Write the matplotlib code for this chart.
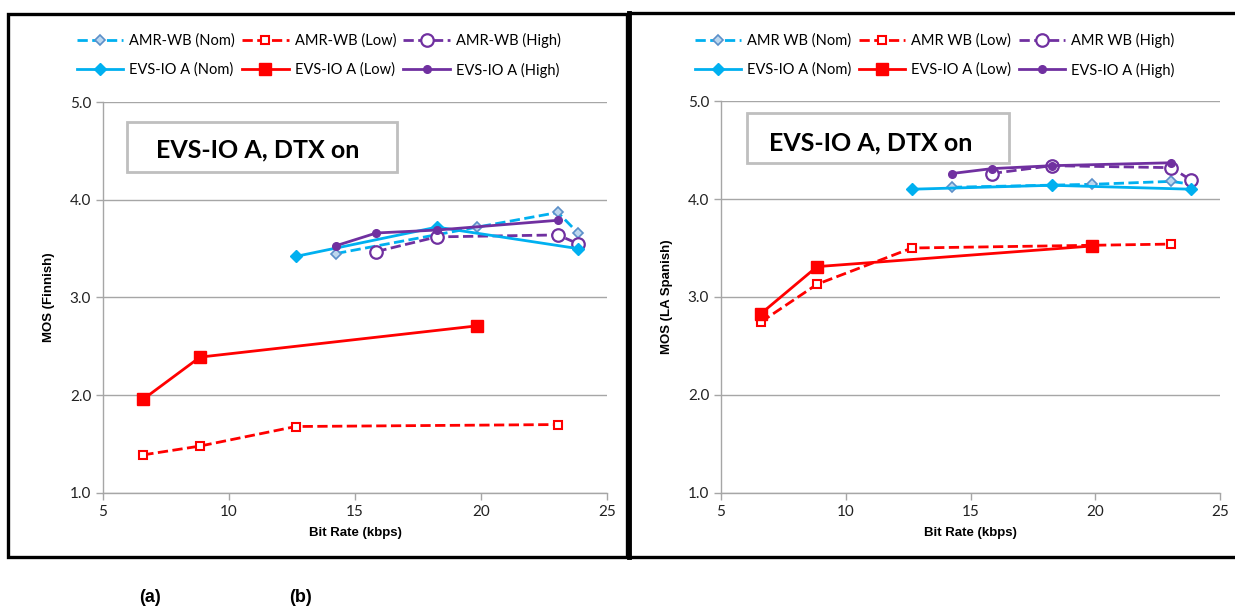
import matplotlib
matplotlib.use('Agg')
import matplotlib.pyplot as plt
from matplotlib.patches import Rectangle

plt.rcParams['font.family'] = ['Lato', 'DejaVu Sans']

# bit rates (kbps) and MOS values
# (a) Finnish
fi_amr_nom_x = [14.25, 19.85, 23.05, 23.85]
fi_amr_nom_y = [3.45, 3.72, 3.87, 3.66]
fi_amr_low_x = [6.6, 8.85, 12.65, 23.05]
fi_amr_low_y = [1.39, 1.48, 1.68, 1.70]
fi_amr_high_x = [15.85, 18.25, 23.05, 23.85]
fi_amr_high_y = [3.47, 3.62, 3.64, 3.55]
fi_evs_nom_x = [12.65, 18.25, 23.85]
fi_evs_nom_y = [3.42, 3.72, 3.50]
fi_evs_low_x = [6.6, 8.85, 19.85]
fi_evs_low_y = [1.96, 2.39, 2.71]
fi_evs_high_x = [14.25, 15.85, 18.25, 23.05]
fi_evs_high_y = [3.53, 3.66, 3.69, 3.79]

# (b) LA Spanish
es_amr_nom_x = [14.25, 19.85, 23.05, 23.85]
es_amr_nom_y = [4.12, 4.15, 4.18, 4.15]
es_amr_low_x = [6.6, 8.85, 12.65, 23.05]
es_amr_low_y = [2.745, 3.13, 3.50, 3.54]
es_amr_high_x = [15.85, 18.25, 23.05, 23.85]
es_amr_high_y = [4.26, 4.34, 4.32, 4.19]
es_evs_nom_x = [12.65, 18.25, 23.85]
es_evs_nom_y = [4.10, 4.14, 4.10]
es_evs_low_x = [6.6, 8.85, 19.85]
es_evs_low_y = [2.83, 3.31, 3.52]
es_evs_high_x = [14.25, 15.85, 18.25, 23.05]
es_evs_high_y = [4.26, 4.31, 4.34, 4.37]

x_ticks = [5, 10, 15, 20, 25]
y_ticks = [1.0, 2.0, 3.0, 4.0, 5.0]

CYAN = '#00B0F0'
RED = '#FF0000'
PURPLE = '#7030A0'
GRAY = '#A6A6A6'


def draw_panel(ax, d, amr_name, ylabel, box_pos, text_pos):
    lw = 2.0
    h = {}
    h['an'], = ax.plot(d[0][0], d[0][1], '--', color=CYAN, lw=lw, marker='D', ms=5,
                       mfc='#BDD7EE', mec='#5B8FC9', mew=1.2, label=amr_name + ' (Nom)', zorder=3)
    h['al'], = ax.plot(d[1][0], d[1][1], '--', color=RED, lw=lw, marker='s', ms=5.5,
                       mfc='white', mec=RED, mew=1.5, label=amr_name + ' (Low)', zorder=3)
    h['ah'], = ax.plot(d[2][0], d[2][1], '--', color=PURPLE, lw=lw, marker='o', ms=9,
                       mfc='white', mec=PURPLE, mew=1.6, label=amr_name + ' (High)', zorder=3)
    h['en'], = ax.plot(d[3][0], d[3][1], '-', color=CYAN, lw=lw, marker='D', ms=6.5,
                       mfc=CYAN, mec=CYAN, label='EVS-IO A (Nom)', zorder=4)
    h['el'], = ax.plot(d[4][0], d[4][1], '-', color=RED, lw=lw, marker='s', ms=9,
                       mfc=RED, mec=RED, label='EVS-IO A (Low)', zorder=4)
    h['eh'], = ax.plot(d[5][0], d[5][1], '-', color=PURPLE, lw=lw, marker='o', ms=5.5,
                       mfc=PURPLE, mec=PURPLE, label='EVS-IO A (High)', zorder=4)

    ax.set_xlim(5, 25)
    ax.set_ylim(1.0, 5.0)
    ax.set_xticks(x_ticks)
    ax.set_yticks(y_ticks)
    ax.set_yticklabels(['%.1f' % v for v in y_ticks])
    ax.grid(axis='y', color=GRAY, lw=1.0)
    ax.set_axisbelow(True)
    for s in ['top', 'right']:
        ax.spines[s].set_visible(False)
    for s in ['left', 'bottom']:
        ax.spines[s].set_color(GRAY)
        ax.spines[s].set_linewidth(1.0)
    ax.tick_params(axis='both', colors=GRAY, labelcolor='#222222', labelsize=11,
                   length=5, width=1.0, direction='out')
    ax.set_xlabel('Bit Rate (kbps)', fontsize=9.5, fontweight='bold', labelpad=6,
                  family=['Liberation Sans', 'DejaVu Sans'])
    ax.set_ylabel(ylabel, fontsize=9.5, fontweight='bold', labelpad=11,
                  family=['Liberation Sans', 'DejaVu Sans'])

    x0, y0, x1, y1 = box_pos
    ax.add_patch(Rectangle((x0, y0), x1 - x0, y1 - y0, transform=ax.transAxes,
                           fc='white', ec='#BFBFBF', lw=2.0, zorder=5))
    ax.text(text_pos[0], text_pos[1], 'EVS-IO A, DTX on', transform=ax.transAxes,
            ha='center', va='center', fontsize=18, fontweight='bold', zorder=6)

    order = ['an', 'en', 'al', 'el', 'ah', 'eh']
    return [h[k] for k in order]


fig = plt.figure(figsize=(12.35, 6.13), dpi=100)

ax1 = fig.add_axes([0.0834, 0.1958, 0.4081, 0.6378])
ax2 = fig.add_axes([0.5838, 0.1958, 0.4041, 0.6394])

fi_data = [(fi_amr_nom_x, fi_amr_nom_y), (fi_amr_low_x, fi_amr_low_y), (fi_amr_high_x, fi_amr_high_y),
           (fi_evs_nom_x, fi_evs_nom_y), (fi_evs_low_x, fi_evs_low_y), (fi_evs_high_x, fi_evs_high_y)]
es_data = [(es_amr_nom_x, es_amr_nom_y), (es_amr_low_x, es_amr_low_y), (es_amr_high_x, es_amr_high_y),
           (es_evs_nom_x, es_evs_nom_y), (es_evs_low_x, es_evs_low_y), (es_evs_high_x, es_evs_high_y)]

hl1 = draw_panel(ax1, fi_data, 'AMR-WB', 'MOS (Finnish)',
                 (0.0476, 0.821, 0.583, 0.949), (0.3066, 0.877))
hl2 = draw_panel(ax2, es_data, 'AMR WB', 'MOS (LA Spanish)',
                 (0.052, 0.842, 0.577, 0.969), (0.3006, 0.892))

for ax, hl, cx in [(ax1, hl1, 0.258), (ax2, hl2, 0.7567)]:
    ax.legend(hl, [l.get_label() for l in hl], ncol=3, loc='center',
              bbox_to_anchor=(cx, 0.910), bbox_transform=fig.transFigure,
              frameon=False, fontsize=10.5, handlelength=3.2, handletextpad=0.4,
              columnspacing=0.5, labelspacing=1.0, borderaxespad=0)

# panel frames (right panel is open on its right side)
fig.add_artist(Rectangle((8 / 1235, 1 - 557 / 613), 619 / 1235, 543 / 613,
                         transform=fig.transFigure, fill=False, ec='black', lw=2.4))
bot = 1 - 557 / 613
top = 1 - 12.5 / 613
xl = 629 / 1235
fig.add_artist(plt.Line2D([xl, 1.0], [top, top], transform=fig.transFigure, color='black', lw=2.4))
fig.add_artist(plt.Line2D([xl, 1.0], [bot, bot], transform=fig.transFigure, color='black', lw=2.4))
fig.add_artist(plt.Line2D([xl, xl], [bot, top], transform=fig.transFigure, color='black', lw=3.5))

fig.text(150 / 1235, 1 - 598 / 613, '(a)', ha='center', va='center', fontsize=13,
         fontweight='bold', family=['Liberation Sans', 'DejaVu Sans'])
fig.text(300 / 1235, 1 - 598 / 613, '(b)', ha='center', va='center', fontsize=13,
         fontweight='bold', family=['Liberation Sans', 'DejaVu Sans'])

fig.savefig('out.png', dpi=100)
